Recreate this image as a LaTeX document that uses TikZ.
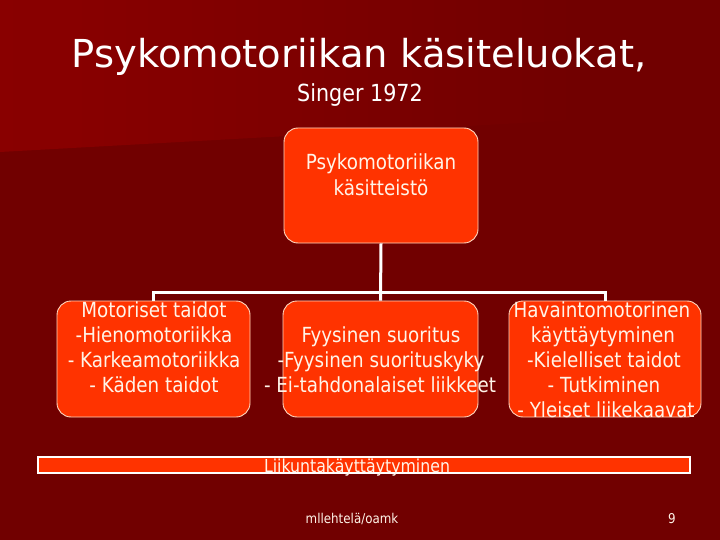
\documentclass[tikz,border=0pt]{standalone}
\usepackage{fontspec}
\setmainfont{DejaVu Sans}[FakeStretch=0.88]
\newfontfamily\titlefont{DejaVu Sans}
\definecolor{bg}{HTML}{710000}
\definecolor{bgl}{HTML}{8C0000}
\definecolor{boxfill}{HTML}{FF3300}
\definecolor{boxline}{HTML}{FFD8C0}
\definecolor{textc}{HTML}{FFF4E8}
\pgfdeclarehorizontalshading{band}{100bp}{color(0bp)=(bgl); color(30bp)=(bgl!85!bg); color(65bp)=(bg); color(100bp)=(bg)}
\begin{document}
\begin{tikzpicture}[x=1pt,y=-1pt,
  box/.style={draw=boxline, line width=0.9pt, fill=boxfill, rounded corners=14pt, inner sep=0pt, minimum height=115pt},
  conn/.style={draw=white, line width=3pt},
  txt/.style={text=textc, font=\fontsize{20.8}{24}\selectfont, anchor=base, inner sep=0pt},
  ttl/.style={text=white, anchor=base, inner sep=0pt}]
\useasboundingbox (0,0) rectangle (720,540);
\fill[bg] (0,0) rectangle (720,540);
\shade[shading=band] (0,0) -- (720,0) -- (720,112) -- (0,152) -- cycle;

\node[ttl, font=\titlefont\fontsize{38.5}{40}\selectfont] (title) at (359,68) {Psykomotoriikan käsiteluokat,};
\node[ttl, font=\fontsize{23.5}{25}\selectfont] (sub) at (360,102) {Singer 1972};

\node[box, minimum width=194pt] (top) at (381,185.5) {};
\node[box, minimum width=193pt, minimum height=116pt] (left) at (153.5,359) {};
\node[box, minimum width=195pt, minimum height=116pt] (mid) at (380.5,359) {};
\node[box, minimum width=192pt, minimum height=116pt] (right) at (605,359) {};

\draw[conn] (top.south) -- (mid.north);
\draw[conn] (left.north) -- ++(0,-8) -| (right.north);

\node[txt] (t1) at (381,170) {Psykomotoriikan};
\node[txt] (t2) at (381,195.3) {käsitteistö};

\node[txt] (a1) at (154,317) {Motoriset taidot};
\node[txt] (a2) at (154,342.3) {-Hienomotoriikka};
\node[txt] (a3) at (154,367.6) {- Karkeamotoriikka};
\node[txt] (a4) at (154,392.9) {- Käden taidot};

\node[txt] (b1) at (381,342.3) {Fyysinen suoritus};
\node[txt] (b2) at (381,367.6) {-Fyysinen suorituskyky};
\node[txt] (b3) at (380,392.9) {- Ei-tahdonalaiset liikkeet};

\node[txt] (c1) at (602,317) {Havaintomotorinen};
\node[txt] (c2) at (603,342.3) {käyttäytyminen};
\node[txt] (c3) at (604,367.6) {-Kielelliset taidot};
\node[txt] (c4) at (604,392.9) {- Tutkiminen};
\node[txt] (c5) at (606,417.5) {- Yleiset liikekaavat};

\node[draw=white, line width=2pt, fill=boxfill, minimum width=652pt, minimum height=16pt, inner sep=0pt] (bar) at (363.5,465) {};
\node[txt, font=\fontsize{17.9}{20}\selectfont] (bartxt) at (357,472) {Liikuntakäyttäytyminen};

\node[txt, font=\fontsize{13.5}{14}\selectfont] (foot) at (352,523) {mllehtelä/oamk};
\node[txt, font=\fontsize{13.5}{14}\selectfont] (page) at (672,523) {9};
\end{tikzpicture}
\end{document}
